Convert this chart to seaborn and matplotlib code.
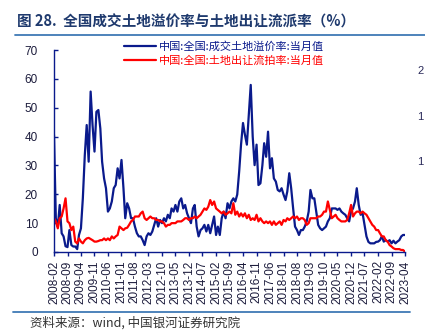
import numpy as np
import pandas as pd
import matplotlib
matplotlib.use("Agg")
import matplotlib.pyplot as plt
import seaborn as sns
from matplotlib.lines import Line2D

# ---------------- data ----------------
start_month = "2008-02"
end_month = "2023-04"

premium_rate = [  # 中国:全国:成交土地溢价率:当月值
    40.6, 11.7, 8.8, 16.3, 6.5, 5.4, 2.0, 1.7, 7.6, 2.4, 1.9, 1.9, 1.0, 5.9, 8.2,
    18.6, 33.6, 44.0, 31.3, 55.6, 44.0, 34.8, 48.6, 49.2, 42.8, 31.3, 25.5, 22.1,
    14.0, 15.1, 17.5, 22.1, 23.2, 29.0, 25.5, 31.9, 22.1, 11.7, 16.9, 15.1, 11.7,
    11.7, 8.8, 6.5, 5.4,
    5.4, 4.1, 2.4, 5.4, 6.5, 5.9, 7.1, 9.4, 11.7, 8.8, 11.1, 10.0, 11.7, 10.6,
    12.9, 11.7, 15.1, 14.0, 16.3, 14.0, 17.5, 18.6, 15.1, 16.3, 13.4, 11.7, 10.0,
    15.1, 16.3, 8.8, 5.4, 7.6, 8.2, 9.4, 7.1, 9.4, 6.5, 9.4, 12.3, 5.9, 8.8,
    5.9, 11.7, 14.0, 11.7, 16.9, 15.1, 17.5, 18.6, 17.5, 19.9, 28.0, 37.2, 44.7,
    40.7, 37.2, 47.5, 57.9, 40.0, 30.1, 37.2, 23.2, 23.8, 30.1, 37.7, 33.0, 41.7,
    29.0, 32.5, 25.5, 24.4, 21.5, 21.0, 22.1, 19.9, 18.0, 21.0, 27.3, 22.1, 15.1,
    8.8, 7.6, 5.9, 7.6, 7.6,
    8.8, 10.6, 14.0, 21.5, 18.6, 18.6, 14.0, 9.4, 8.2, 7.6, 8.2, 8.8, 10.6, 11.7,
    15.1, 15.1, 15.1, 14.6, 15.1, 14.0, 13.4, 12.9, 11.7, 10.6, 14.0, 15.1, 17.5,
    22.1, 16.3, 12.9, 13.4, 9.4, 5.4, 3.5, 3.0, 3.0, 3.0, 3.5, 3.6, 4.1, 5.4, 3.6,
    4.1, 3.6, 4.1, 3.0, 3.9, 3.0, 3.6, 4.1, 5.4, 5.9, 5.9,
]

failure_rate = [  # 中国:全国:土地出让流拍率:当月值
    11.7, 10.6, 8.2, 11.7, 12.3, 15.1, 18.6, 10.6, 10.0, 7.6, 8.8, 3.6, 3.0, 4.7,
    3.6, 3.0, 4.1, 4.7, 4.9, 4.5, 4.1, 3.6, 3.6, 3.8, 4.1, 4.1, 4.7, 4.1, 4.7, 4.1,
    5.4, 4.7, 5.4, 5.9, 8.8, 8.2, 7.6, 8.2, 8.4, 9.4, 10.6, 11.1, 12.3, 12.3, 12.3,
    13.4, 14.0, 11.7, 11.1, 11.7, 12.3, 11.7, 11.7, 11.1, 11.1, 10.6, 10.6, 10.0,
    8.8, 9.4, 9.4, 10.0, 10.0, 10.0, 10.6, 10.6, 10.6, 11.1, 11.7, 11.7, 11.1,
    11.7, 11.7, 12.3, 11.7, 12.3, 12.9, 14.0, 15.1, 14.6, 15.7, 18.0, 16.3, 17.5,
    15.1, 14.6,
    14.0, 13.4, 14.0, 12.9, 13.4, 14.0, 13.4, 16.9, 12.9, 14.0, 12.3, 13.4, 12.3,
    13.4, 11.7, 12.9, 11.1, 11.7, 11.1, 12.9, 10.6, 11.7, 10.6, 10.0, 10.6, 10.0,
    10.6, 9.4, 10.6, 9.4, 10.0, 10.6, 9.4, 11.1, 10.6, 11.7, 11.1, 11.7, 12.3,
    11.7, 12.3, 11.1, 11.7, 11.7,
    11.1, 9.4, 10.0, 11.7, 11.7, 11.7, 11.7, 12.3, 12.3, 12.9, 14.0, 14.0, 17.5,
    14.6, 11.7, 12.3, 12.9, 11.7, 11.1, 10.6, 10.6, 10.6, 11.1, 13.4, 16.3, 12.3,
    13.4, 14.0, 14.0, 13.4, 14.0, 13.4, 12.9, 11.7, 10.6, 9.4, 8.8, 7.6, 7.6, 6.5,
    5.4, 5.4, 4.1, 3.6, 2.4, 1.9, 1.3, 1.0, 1.0, 1.0, 0.7, 0.7, 0.1,
]

series_names = ["中国:全国:成交土地溢价率:当月值", "中国:全国:土地出让流拍率:当月值"]
left_ticks = [0, 10, 20, 30, 40, 50, 60, 70]
right_ticks = [10, 15, 20]
right_tick_labels = ["1", "1", "2"]   # only the first digit is visible at the page edge
title_text = "图 28.  全国成交土地溢价率与土地出让流派率（%）"
source_text = "资料来源：wind, 中国银河证券研究院"

# ---------------- build frame ----------------
dates = pd.date_range(start_month, end_month, freq="MS")
df = pd.DataFrame({
    "date": np.concatenate([dates, dates]),
    "value": np.concatenate([premium_rate, failure_rate]),
    "series": [series_names[0]] * len(dates) + [series_names[1]] * len(dates),
})

sns.set_theme(style="white")
plt.rcParams["font.family"] = ["Liberation Sans", "Noto Sans CJK SC", "DejaVu Sans"]

NAVY = "#0a1a8c"
RED = "#ff0000"
TXT = "#1c1c3c"
CJK = ["Noto Sans CJK SC", "DejaVu Sans"]

fig = plt.figure(figsize=(4.25, 3.30), dpi=100)
ax = fig.add_axes([54 / 425, 1 - 252 / 330, 351 / 425, 202 / 330])

sns.lineplot(data=df, x="date", y="value", hue="series",
             palette={series_names[0]: NAVY, series_names[1]: RED},
             linewidth=1.6, ax=ax, legend=False)

ax.set_xlim(dates[0], dates[-1])
ax.set_ylim(0, 70)
ax.set_yticks(left_ticks)
tick_dates = dates[::7]
ax.set_xticks(tick_dates)
ax.set_xticklabels([d.strftime("%Y-%m") for d in tick_dates], rotation=90)
ax.set_xlabel("")
ax.set_ylabel("")

for side in ["top", "right"]:
    ax.spines[side].set_visible(False)
for side in ["left", "bottom"]:
    ax.spines[side].set_color(NAVY)
    ax.spines[side].set_linewidth(1.0)

ax.tick_params(axis="y", direction="in", length=3, width=1, color=NAVY,
               pad=11.5, labelsize=8.5, labelcolor=TXT, left=True)
ax.tick_params(axis="x", direction="out", length=3, width=1, color=NAVY,
               pad=3, labelsize=8.5, labelcolor=TXT, bottom=True)

# partially visible right axis (cut by the page edge in the reference)
tw = ax.twinx()
tw.set_ylim(0, 22.2)
tw.set_yticks(right_ticks)
tw.set_yticklabels(right_tick_labels)
for side in tw.spines:
    tw.spines[side].set_visible(False)
tw.tick_params(axis="y", length=0, pad=9.0, labelsize=8, labelcolor="#2a2a5a")
tw.grid(False)
ax.grid(False)

# legend
handles = [Line2D([0], [0], color=NAVY, lw=1.6), Line2D([0], [0], color=RED, lw=1.6)]
leg = ax.legend(handles, series_names, loc="upper left",
                bbox_to_anchor=(124 / 425, 1 - 41 / 330), bbox_transform=fig.transFigure,
                frameon=False, borderpad=0, borderaxespad=0, handlelength=2.9,
                handletextpad=0.25, labelspacing=0.35,
                prop={"family": CJK, "size": 8})
for t, c in zip(leg.get_texts(), [NAVY, RED]):
    t.set_color(c)

# title and rules
fig.text(17 / 425, 1 - 22 / 330, title_text, fontsize=10.5, fontweight="bold",
         color="#1f3a6e", va="center", ha="left", family=CJK)
fig.add_artist(Line2D([15 / 425, 1.0], [1 - 34.5 / 330] * 2, color="#3f7ab5", lw=1.3))
fig.add_artist(Line2D([13 / 425, 410 / 425], [1 - 311.5 / 330] * 2, color="#3f7ab5", lw=1.3))
fig.text(30 / 425, 1 - 323 / 330, source_text, fontsize=9, style="italic",
         color="#333333", va="center", ha="left", family=CJK)

fig.savefig("out.png", dpi=100, facecolor="white")
